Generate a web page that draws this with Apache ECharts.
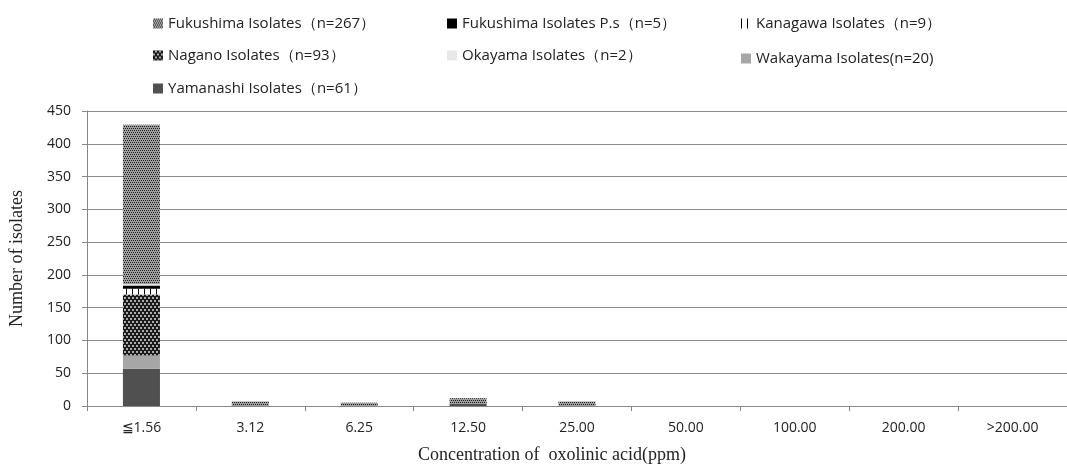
<!DOCTYPE html>
<html><head><meta charset="utf-8">
<script src="https://cdn.jsdelivr.net/npm/echarts@6/dist/echarts.min.js"></script>
<style>html,body{margin:0;padding:0;background:#fff}#c{width:1067px;height:469px}</style>
</head><body><div id="c"></div>
<script>
const categories = ['≦1.56','3.12','6.25','12.50','25.00','50.00','100.00','200.00','>200.00'];
const yamanashi   = [57, 0, 0, 4, 0, 0, 0, 0, 0];
const wakayama    = [20, 0, 0, 0, 0, 0, 0, 0, 0];
const nagano      = [93, 0, 0, 0, 0, 0, 0, 0, 0];
const kanagawa    = [9, 0, 0, 0, 0, 0, 0, 0, 0];
const fukushimaPs = [5, 0, 0, 0, 0, 0, 0, 0, 0];
const okayama     = [2, 0, 0, 0, 0, 0, 0, 0, 0];
const fukushima   = [243, 7, 5, 8, 7, 0, 0, 0, 0];
const yTicks = [0, 50, 100, 150, 200, 250, 300, 350, 400, 450];

const names = {
  fk: 'Fukushima Isolates（n=267）',
  ps: 'Fukushima Isolates P.s（n=5）',
  kg: 'Kanagawa Isolates（n=9）',
  ng: 'Nagano Isolates（n=93）',
  ok: 'Okayama Isolates（n=2）',
  wk: 'Wakayama Isolates(n=20)',
  ym: 'Yamanashi Isolates（n=61）'
};

const checker = {symbol:'rect', symbolSize:1, color:'#1e1e1e', dashArrayX:[[1,1],[0,1,1,0]], dashArrayY:[1,1]};
const crosses = {symbol:'circle', symbolSize:0.9, color:'#f2f2f2', dashArrayX:[[2,2],[0,2,2,0]], dashArrayY:[2,1]};
const vlines = {symbol:'rect', symbolSize:1, color:'#000', dashArrayX:[1,5], dashArrayY:[20,0]};

function ser(name, data, color, decal) {
  return {
    name, type:'bar', stack:'s', data, barWidth:'34%',
    itemStyle:{color, decal}, emphasis:{disabled:true}
  };
}

const series = [
  ser(names.ym, yamanashi, '#505050'),
  ser(names.wk, wakayama, '#a6a6a6'),
  ser(names.ng, nagano, '#1a1a1a', crosses),
  ser(names.kg, kanagawa, '#ffffff', vlines),
  ser(names.ps, fukushimaPs, '#000000'),
  ser(names.ok, okayama, '#e8e8e8'),
  ser(names.fk, fukushima, '#a0a0a0', checker)
];

const legendText = {fontFamily:'"Open Sans", "Noto Sans", sans-serif', fontSize:15, color:'#222'};
function leg(name, left, top) {
  return {data:[name], left, top, icon:'rect', itemWidth:10, itemHeight:10, itemGap:4, textStyle:legendText, selectedMode:false, padding:0};
}

const chart = echarts.init(document.getElementById('c'), null, {renderer:'canvas'});
chart.setOption({
  animation:false,
  aria:{decal:{show:false}},
  legend:[
    leg(names.fk, 153, 16), leg(names.ps, 447, 16), leg(names.kg, 741, 16),
    leg(names.ng, 153, 48), leg(names.ok, 447, 48), leg(names.wk, 741, 51),
    leg(names.ym, 153, 81)
  ],
  grid:{left:87, right:-7, top:111, bottom:58},
  xAxis:{
    type:'category', data:categories,
    axisLine:{lineStyle:{color:'#888', width:1}},
    axisTick:{show:true, alignWithLabel:false, length:5, lineStyle:{color:'#888'}},
    axisLabel:{fontFamily:'"Open Sans", "Noto Sans", sans-serif', fontSize:14, color:'#222', margin:15},
    name:'Concentration of  oxolinic acid(ppm)', nameLocation:'middle', nameGap:40,
    nameTextStyle:{fontFamily:'"Liberation Serif", serif', fontSize:18, color:'#222', padding:[0, 50, 0, 0]}
  },
  yAxis:{
    type:'value', min:0, max:450, interval:50,
    axisLine:{show:true, lineStyle:{color:'#888'}},
    axisTick:{show:true, length:5, lineStyle:{color:'#888'}},
    splitLine:{lineStyle:{color:'#8c8c8c', width:1}},
    axisLabel:{fontFamily:'"Open Sans", "Noto Sans", sans-serif', fontSize:14, color:'#222', margin:16,
      formatter: v => yTicks.includes(v) ? String(v) : ''},
    name:'Number of isolates', nameLocation:'middle', nameGap:61, nameRotate:90,
    nameTextStyle:{fontFamily:'"Liberation Serif", serif', fontSize:18, color:'#222'}
  },
  series
});
</script></body></html>
